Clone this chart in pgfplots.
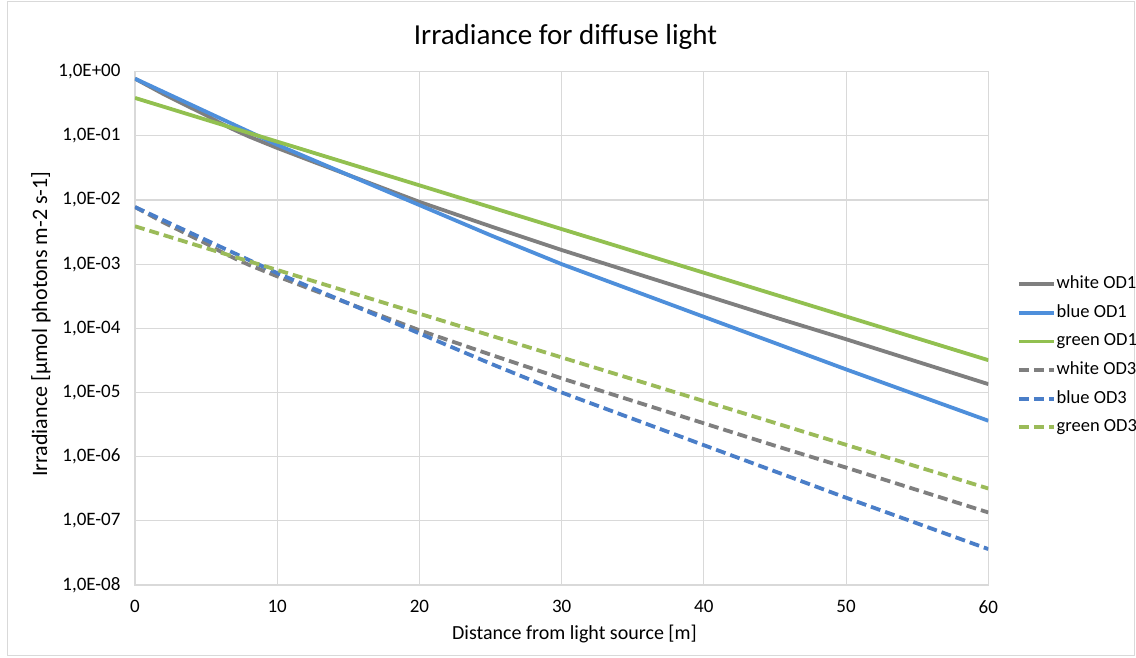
\documentclass[border=0pt]{standalone}
\usepackage{pgfplots}
\pgfplotsset{compat=1.18}
\usepackage{pgfplotstable}
\usepackage{fontspec}
\setmainfont{Carlito}
\definecolor{gridgray}{HTML}{D9D9D9}
\definecolor{cwhite}{HTML}{7F7F7F}
\definecolor{cblue}{HTML}{4E8FDB}
\definecolor{cbluedash}{HTML}{4A7EC8}
\definecolor{cgreen}{HTML}{92C050}
\definecolor{cgreendash}{HTML}{9BBB59}

\pgfplotstableread{
x od1 od3
0 7.76e-1 7.76e-3
1 5.89e-1 5.89e-3
2 4.47e-1 4.47e-3
3 3.47e-1 3.47e-3
4 2.69e-1 2.69e-3
5 2.09e-1 2.09e-3
6 1.58e-1 1.58e-3
7 1.23e-1 1.23e-3
8 9.77e-2 9.77e-4
9 7.94e-2 7.94e-4
10 6.46e-2 6.46e-4
12 4.37e-2 4.37e-4
15 2.45e-2 2.45e-4
20 9.33e-3 9.33e-5
25 3.89e-3 3.89e-5
30 1.66e-3 1.66e-5
35 7.41e-4 7.41e-6
40 3.31e-4 3.31e-6
45 1.48e-4 1.48e-6
50 6.76e-5 6.76e-7
55 3.02e-5 3.02e-7
60 1.35e-5 1.35e-7
}\whitedata

\pgfplotstableread{
x od1 od3
0 7.76e-1 7.76e-3
5 2.37e-1 2.37e-3
10 7.24e-2 7.24e-4
15 2.45e-2 2.45e-4
20 8.32e-3 8.32e-5
25 2.82e-3 2.82e-5
30 1.00e-3 1.00e-5
35 3.89e-4 3.89e-6
40 1.51e-4 1.51e-6
45 5.89e-5 5.89e-7
50 2.29e-5 2.29e-7
55 9.12e-6 9.12e-8
60 3.63e-6 3.63e-8
}\bluedata

\pgfplotstableread{
x od1 od3
0 3.89e-1 3.89e-3
10 8.11e-2 8.11e-4
20 1.69e-2 1.69e-4
30 3.52e-3 3.52e-5
40 7.35e-4 7.35e-6
50 1.53e-4 1.53e-6
60 3.19e-5 3.19e-7
}\greendata

\begin{document}
\begin{tikzpicture}
\useasboundingbox (-135bp,-73bp) rectangle (1001bp,585bp);
\draw[gridgray, line width=1bp] (-127bp,-70bp) rectangle (999bp,583bp);
\begin{axis}[
  scale only axis,
  width=853.3bp, height=513.4bp,
  ymode=log,
  xmin=0, xmax=60, ymin=1e-8, ymax=1,
  xtick={0,10,20,30,40,50,60},
  xticklabels={0,10,20,30,40,50,60},
  ytick={1e-8,1e-7,1e-6,1e-5,1e-4,1e-3,1e-2,1e-1,1},
  yticklabels={{1,0E-08},{1,0E-07},{1,0E-06},{1,0E-05},{1,0E-04},{1,0E-03},{1,0E-02},{1,0E-01},{1,0E+00}},
  yminorticks=false,
  grid=major,
  major grid style={draw=gridgray, line width=1.1bp},
  axis line style={draw=gridgray, line width=1.1bp},
  major tick length=0pt,
  tick label style={font=\fontsize{19bp}{22bp}\selectfont, text=black},
  yticklabel style={xshift=-11bp},
  xticklabel style={yshift=-12bp},
  xlabel={Distance from light source [m]},
  xlabel style={at={(axis description cs:0.515,-0.1071)}, anchor=base, font=\fontsize{20bp}{24bp}\selectfont},
  ylabel={Irradiance [µmol photons m-2 s-1]},
  ylabel style={at={(axis description cs:-0.1031,0.5084)}, anchor=base, font=\fontsize{22bp}{26bp}\selectfont},
  legend cell align=left,
  legend style={at={(1.0333,0.6028)}, anchor=north west, draw=none, fill=none,
    font=\fontsize{18.5bp}{21bp}\selectfont, inner sep=0pt, row sep=11.6bp,
    nodes={inner sep=1bp, text height=12bp, text depth=3bp}},
  legend image code/.code={\draw[#1] (0bp,0bp) -- (35bp,0bp);},
]
\addplot[cwhite, line width=3.8bp, line join=round] table[x=x, y=od1] {\whitedata};
\addlegendentry{white OD1}
\addplot[cblue, line width=3.8bp, line join=round] table[x=x, y=od1] {\bluedata};
\addlegendentry{blue OD1}
\addplot[cgreen, line width=3.8bp, line join=round] table[x=x, y=od1] {\greendata};
\addlegendentry{green OD1}
\addplot[cwhite, line width=3.8bp, dash pattern=on 10bp off 5bp] table[x=x, y=od3] {\whitedata};
\addlegendentry{white OD3}
\addplot[cbluedash, line width=3.8bp, dash pattern=on 10bp off 5bp] table[x=x, y=od3] {\bluedata};
\addlegendentry{blue OD3}
\addplot[cgreendash, line width=3.8bp, dash pattern=on 10bp off 5bp] table[x=x, y=od3] {\greendata};
\addlegendentry{green OD3}
\end{axis}
\node[anchor=base, font=\fontsize{29bp}{34bp}\selectfont] at (430.5bp,540bp) {Irradiance for diffuse light};
\end{tikzpicture}
\end{document}
